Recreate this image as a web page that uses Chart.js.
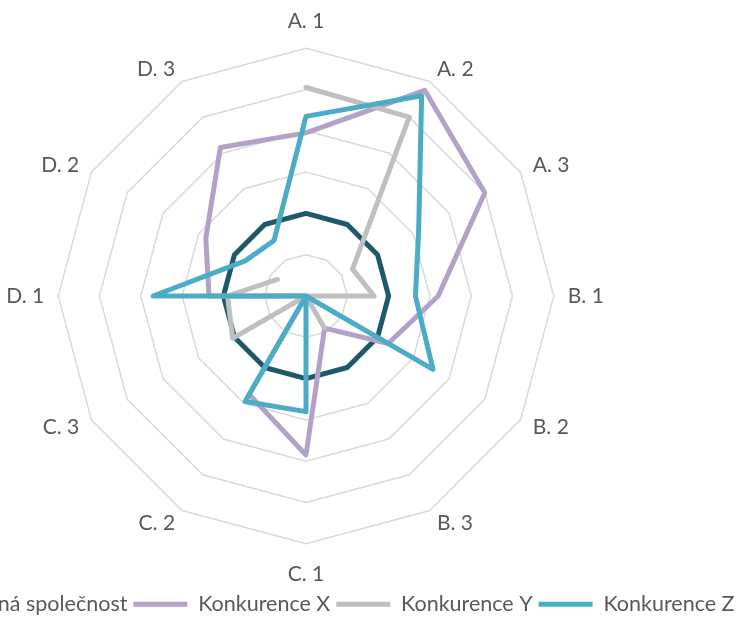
<!DOCTYPE html>
<html>
<head>
<meta charset="utf-8">
<script src="https://cdn.jsdelivr.net/npm/chart.js@4"></script>
<style>
    html, body { margin: 0; padding: 0; overflow: hidden; background: #fff; }
    body { width: 743px; height: 617px; position: relative; }
    #myChart { position: absolute; left: -194px; top: 0; }
</style>
</head>
<body>
<canvas id="myChart" width="1000" height="625"></canvas>
<script>
const categories = ['A. 1', 'A. 2', 'A. 3', 'B. 1', 'B. 2', 'B. 3', 'C. 1', 'C. 2', 'C. 3', 'D. 1', 'D. 2', 'D. 3'];
const seriesNames = ['Vybraná společnost', 'Konkurence X', 'Konkurence Y', 'Konkurence Z'];
const vybrana = [2, 2, 2, 2, 2, 2, 2, 2, 2, 2, 2, 2];
const konkurenceX = [3.95, 5.75, 5.0, 3.2, 2.3, 0.9, 3.85, 2.75, 0, 2.35, 2.8, 4.15];
const konkurenceY = [5.05, 5.0, 1.3, 1.65, 0, 0.9, 0, 0, 2.05, 1.9, 0.8, null];
const konkurenceZ = [4.35, 5.6, 3.15, 2.65, 3.55, 0, 2.8, 2.95, 0, 3.7, 1.7, 1.55];
const scaleMax = 6;

const colors = ['#1f5968', '#b3a2c7', '#bfbfbf', '#4bacc6'];
const values = [vybrana, konkurenceX, konkurenceY, konkurenceZ];

const ctx = document.getElementById('myChart').getContext('2d');
const myRadarChart = new Chart(ctx, {
    type: 'radar',
    data: {
        labels: categories,
        datasets: values.map((v, i) => ({
            label: seriesNames[i],
            data: v,
            borderColor: colors[i],
            backgroundColor: colors[i],
            borderWidth: 5,
            borderJoinStyle: 'round',
            borderCapStyle: 'round',
            pointRadius: 0,
            pointHoverRadius: 0,
            fill: false,
            spanGaps: false,
            order: 4 - i // later series on top
        }))
    },
    options: {
        responsive: false,
        animation: false,
        layout: {
            padding: { top: 21 }
        },
        plugins: {
            legend: {
                display: true,
                position: 'bottom',
                // empty title just adds space between the plot and the legend
                title: { display: true, text: '', padding: 0, font: { size: 11.5, lineHeight: 1 } },
                labels: {
                    boxWidth: 54,
                    boxHeight: 5,
                    padding: 6,
                    color: '#595959',
                    font: { family: 'Lato', size: 21.5 },
                    sort: (a, b) => a.datasetIndex - b.datasetIndex,
                    generateLabels: (chart) => Chart.defaults.plugins.legend.labels.generateLabels(chart)
                        .map(item => ({ ...item, lineWidth: 0, fillStyle: item.strokeStyle }))
                }
            },
            tooltip: { enabled: false }
        },
        scales: {
            r: {
                min: 0,
                max: scaleMax,
                ticks: { stepSize: 1, display: false },
                angleLines: { display: false },
                grid: { color: '#d9d9d9', lineWidth: 1.5 },
                pointLabels: {
                    color: '#595959',
                    // tiny line height => label is centred on its anchor point, like Excel
                    padding: (c) => c.index === 0 ? 27 : (c.index === 6 ? 30 : 14),
                    font: { family: 'Lato', size: 21, lineHeight: 0.01 }
                }
            }
        }
    }
});
</script>
</body>
</html>
